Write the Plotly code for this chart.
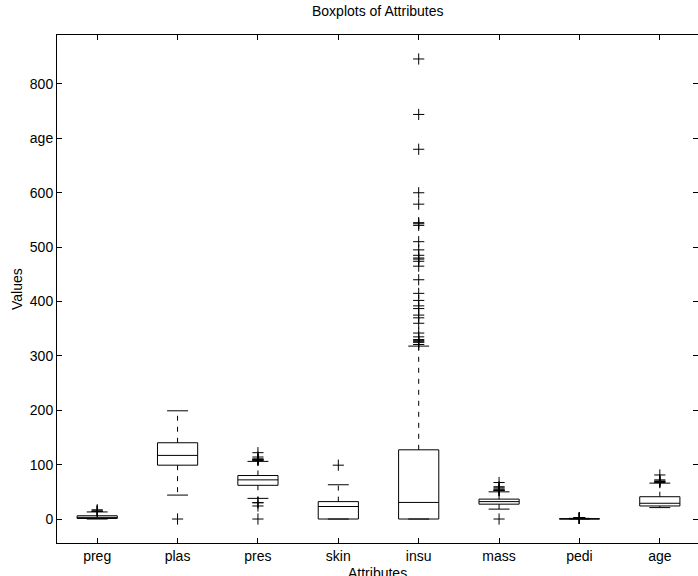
import plotly.graph_objects as go

# ---- data (Pima Indians diabetes attributes) ----
names = ["preg", "plas", "pres", "skin", "insu", "mass", "pedi", "age"]
q1 = [1, 99, 62, 0, 0, 27.3, 0.24375, 24]
medians = [3, 117, 72, 23, 30.5, 32, 0.3725, 29]
q3 = [6, 140.25, 80, 32, 127.25, 36.6, 0.62625, 41]
lower_whisker = [0, 44, 38, 0, 0, 18.2, 0.078, 21]
upper_whisker = [13, 199, 106, 63, 318, 50, 1.191, 66]
outliers = [
    [14, 14, 15, 17],
    [0],
    [0, 24, 30, 30, 108, 108, 110, 110, 110, 114, 122],
    [99],
    [321, 325, 326, 328, 330, 335, 342, 360, 370, 375, 387, 392, 402, 415,
     440, 465, 474, 478, 480, 485, 495, 510, 540, 543, 545, 579, 600, 680,
     744, 846],
    [0, 52.3, 52.9, 53.2, 55.0, 57.3, 59.4, 67.1],
    [1.213, 1.222, 1.224, 1.251, 1.258, 1.268, 1.282, 1.292, 1.318, 1.321,
     1.353, 1.39, 1.391, 1.394, 1.4, 1.441, 1.461, 1.476, 1.6, 1.698, 1.699,
     1.731, 1.781, 1.893, 2.137, 2.288, 2.329, 2.42],
    [67, 68, 69, 70, 72, 81],
]
ytick_vals = [0, 100, 200, 300, 400, 500, 600, 700, 800]
ytick_text = ["0", "100", "200", "300", "400", "500", "600", "age", "800"]

# ---- styling ----
FONT = "Liberation Sans, Arial, Helvetica, sans-serif"
BOX_HALF = 0.25
CAP_HALF = 0.13
LINE = dict(color="black", width=1)

box_x, box_y = [], []
med_x, med_y = [], []
wh_x, wh_y = [], []
cap_x, cap_y = [], []
out_x, out_y = [], []
for i in range(len(names)):
    c = i + 1
    l, r = c - BOX_HALF, c + BOX_HALF
    box_x += [l, r, r, l, l, None]
    box_y += [q1[i], q1[i], q3[i], q3[i], q1[i], None]
    med_x += [l, r, None]
    med_y += [medians[i], medians[i], None]
    wh_x += [c, c, None, c, c, None]
    wh_y += [q3[i], upper_whisker[i], None, q1[i], lower_whisker[i], None]
    cap_x += [c - CAP_HALF, c + CAP_HALF, None, c - CAP_HALF, c + CAP_HALF, None]
    cap_y += [upper_whisker[i], upper_whisker[i], None,
              lower_whisker[i], lower_whisker[i], None]
    out_x += [c] * len(outliers[i])
    out_y += outliers[i]

fig = go.Figure()
fig.add_trace(go.Scatter(x=wh_x, y=wh_y, mode="lines",
                         line=dict(color="black", width=1, dash="5px,6px"),
                         hoverinfo="skip", showlegend=False))
fig.add_trace(go.Scatter(x=cap_x, y=cap_y, mode="lines", line=LINE,
                         hoverinfo="skip", showlegend=False))
fig.add_trace(go.Scatter(x=box_x, y=box_y, mode="lines", line=LINE,
                         hoverinfo="skip", showlegend=False))
fig.add_trace(go.Scatter(x=med_x, y=med_y, mode="lines", line=LINE,
                         hoverinfo="skip", showlegend=False))
fig.add_trace(go.Scatter(x=out_x, y=out_y, mode="markers",
                         marker=dict(symbol="cross-thin", size=8,
                                     line=dict(color="black", width=1)),
                         hoverinfo="skip", showlegend=False))
# helper trace so the right-hand tick axis is rendered
fig.add_trace(go.Scatter(x=[1], y=[0], yaxis="y2", mode="markers",
                         marker=dict(opacity=0), hoverinfo="skip",
                         showlegend=False))

fig.update_layout(
    width=698, height=576,
    margin=dict(l=57, r=0, t=35, b=33),
    paper_bgcolor="white", plot_bgcolor="white",
    font=dict(family=FONT, size=14, color="black"),
    xaxis=dict(range=[0.5, 8.475], tickvals=list(range(1, 9)),
               ticktext=names, ticks="inside", ticklen=5, tickcolor="black",
               showline=True, linecolor="black", linewidth=1, mirror="ticks",
               showgrid=False, zeroline=False, fixedrange=True,
               automargin=False),
    yaxis=dict(range=[-44.1, 890.1], tickvals=ytick_vals, ticktext=ytick_text,
               ticks="inside", ticklen=5, tickcolor="black",
               showline=True, linecolor="black", linewidth=1, mirror=False,
               showgrid=False, zeroline=False, fixedrange=True,
               automargin=False),
    yaxis2=dict(range=[-44.1, 890.1], tickvals=ytick_vals, overlaying="y",
                side="right", ticks="inside", ticklen=5, tickcolor="black",
                showticklabels=False, showline=False, showgrid=False,
                zeroline=False, fixedrange=True, automargin=False),
    annotations=[
        dict(text="Boxplots of Attributes", x=0.5, xref="paper",
             y=1, yref="paper", yshift=14, xanchor="center", yanchor="bottom",
             showarrow=False, font=dict(size=14)),
        dict(text="Attributes", x=0.5, xref="paper", y=0, yref="paper",
             yshift=-20, xanchor="center", yanchor="top", showarrow=False,
             font=dict(size=14)),
        dict(text="Values", x=0, xref="paper", xshift=-40, y=0.5,
             yref="paper", xanchor="center", yanchor="middle", textangle=-90,
             showarrow=False, font=dict(size=14)),
    ],
)

fig.write_html(
    "out.html",
    config={"displayModeBar": False},
    post_script="document.body.style.margin='0';"
                "document.body.style.overflow='hidden';",
)
